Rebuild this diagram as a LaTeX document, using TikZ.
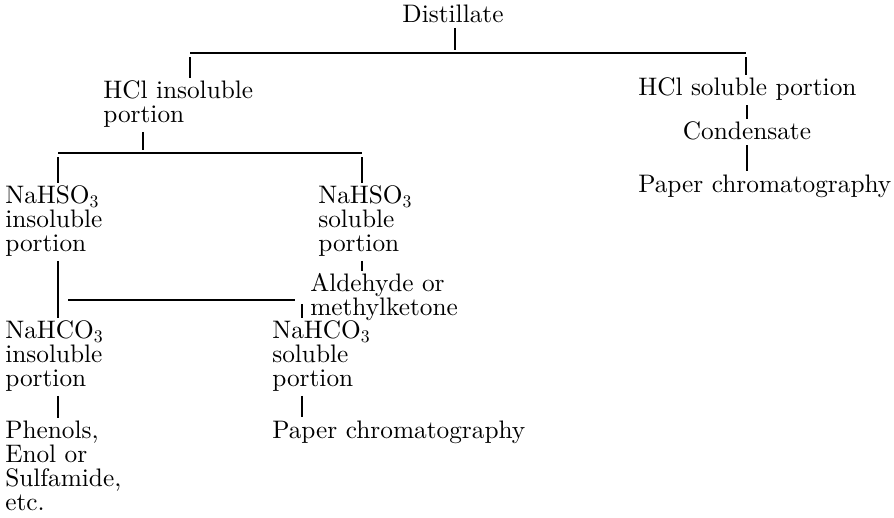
\documentclass[tikz,border=0pt]{standalone}
\usepackage{fontspec}
\setmainfont{lmroman10-regular.otf}[BoldFont=lmroman10-bold.otf]
\usepackage{tikz}
\usetikzlibrary{positioning, calc}

\begin{document}
\begin{tikzpicture}[
    x=0.025cm, y=-0.025cm,
    font=\fontsize{18}{17}\selectfont,
    item/.style={
        inner sep=0pt,
        align=left,
        anchor=north west
    },
    one/.style={
        inner sep=0pt,
        anchor=base west
    },
    link/.style={line width=0.9pt},
    tick/.style={link, shorten <=3pt, shorten >=2pt}
]
\useasboundingbox (0,0) rectangle (894,518);

% ---------------- Nodes ----------------
\node[one, anchor=base] (dist)   at (453, 23)    {Distillate};
\node[item]             (hclin)  at (103, 80.5)  {HCl insoluble\\portion};
\node[one]              (hclsol) at (638, 96)    {HCl soluble portion};
\node[one, anchor=base] (cond)   at (747, 140)   {Condensate};
\node[one]              (paperR) at (638, 192)   {Paper chromatography};

\node[item] (bsoIn)  at (5, 185.5)   {NaHSO\textsubscript{3}\\insoluble\\portion};
\node[item] (bsoSol) at (318, 185.5) {NaHSO\textsubscript{3}\\soluble\\portion};
\node[item] (ald)    at (310, 273.5) {Aldehyde or\\methylketone};

\node[item] (bcoIn)  at (5, 320.5)   {NaHCO\textsubscript{3}\\insoluble\\portion};
\node[item] (bcoSol) at (272, 320.5) {NaHCO\textsubscript{3}\\soluble\\portion};
\node[item] (phen)   at (5, 420.5)   {Phenols,\\Enol or\\Sulfamide,\\etc.};
\node[one]  (paperL) at (272, 438)   {Paper chromatography};

% ---------------- Bus lines ----------------
\coordinate (b1w) at (190, 53);
\coordinate (b1e) at (746, 53);
\coordinate (j0)  at (455, 53);
\coordinate (b2w) at (58, 153);
\coordinate (b2e) at (362, 153);
\coordinate (j1)  at (143, 153);
\coordinate (b3w) at (68, 300);
\coordinate (b3e) at (295, 300);
\coordinate (j2)  at (302, 300);

\draw[link] (b1w) -- (b1e);
\draw[link] (b2w) -- (b2e);
\draw[link] (b3w) -- (b3e);

% ---------------- Ticks ----------------
\draw[tick] (dist.south -| j0) -- (j0);
\draw[tick] (b1w) -- (b1w |- hclin.north);
\draw[tick] (b1e) -- (b1e |- hclsol.north);
\draw[tick] (hclsol.south -| cond) -- (cond.north);
\draw[tick] (cond.south) -- (cond |- paperR.north);

\draw[tick] (hclin.south -| j1) -- (j1);
\draw[tick] (b2w) -- (b2w |- bsoIn.north);
\draw[tick] (b2e) -- (b2e |- bsoSol.north);
\draw[tick] (bsoSol.south -| b2e) -- (b2e |- ald.north);

\draw[tick] (bsoIn.south -| b2w) -- (b2w |- bcoIn.north);
\draw[tick] (j2) -- (j2 |- bcoSol.north);
\draw[tick] (bcoIn.south -| b2w) -- (b2w |- phen.north);
\draw[tick] (bcoSol.south -| j2) -- (j2 |- paperL.north);

\end{tikzpicture}
\end{document}
